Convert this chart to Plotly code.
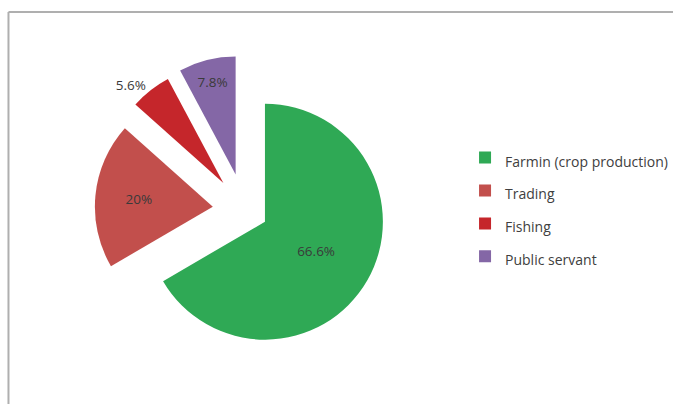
import plotly.graph_objects as go

categories = ["Farmin (crop production)", "Trading", "Fishing", "Public servant"]
values = [66.6, 20, 5.6, 7.8]
colors = ["#2FA955", "#C24F4C", "#C5262B", "#8467A6"]
pulls = [0.20, 0.27, 0.29, 0.31]
text_pos = ["inside", "inside", "outside", "inside"]

FONT = "Liberation Sans Narrow, Open Sans, sans-serif"

legend_labels = ["<span style='font-size:14px'>%s</span>" % c for c in categories]

fig = go.Figure(go.Pie(
    labels=legend_labels,
    values=values,
    sort=False,
    direction="clockwise",
    rotation=0,
    pull=pulls,
    marker=dict(colors=colors, line=dict(width=0)),
    texttemplate="%{value}%",
    textposition=text_pos,
    insidetextorientation="horizontal",
    textfont=dict(family=FONT, size=13.5, color="#3a3a3a"),
    domain=dict(x=[0.1337, 0.5929], y=[0.0978, 0.8626]),
    hoverinfo="skip",
))

fig.update_layout(
    width=673, height=404,
    margin=dict(l=0, r=0, t=0, b=0, autoexpand=False),
    paper_bgcolor="white",
    plot_bgcolor="white",
    font=dict(family=FONT, color="#404040"),
    showlegend=True,
    legend=dict(
        x=0.691, y=0.663, xanchor="left", yanchor="top",
        font=dict(family=FONT, size=23, color="#404040"),
        bgcolor="rgba(0,0,0,0)",
        itemclick=False, itemdoubleclick=False,
    ),
    shapes=[
        dict(type="line", xref="paper", yref="paper", x0=0.0126, x1=1.0, y0=0.970, y1=0.970,
             line=dict(color="#AFAFAF", width=2)),
        dict(type="line", xref="paper", yref="paper", x0=0.0126, x1=0.0126, y0=0.0, y1=0.970,
             line=dict(color="#AFAFAF", width=2)),
    ],
)

fig.write_html("out.html")
